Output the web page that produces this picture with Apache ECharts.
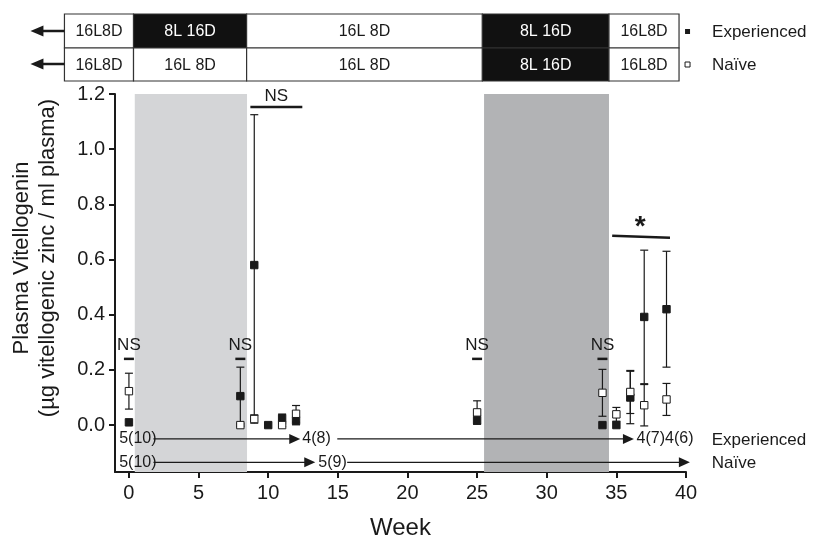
<!DOCTYPE html>
<html><head><meta charset="utf-8">
<script src="https://cdn.jsdelivr.net/npm/echarts@6/dist/echarts.min.js"></script>
<style>html,body{margin:0;padding:0;background:#fff}#c{width:813px;height:538px}</style>
</head><body><div id="c"></div>
<script>
// ---- data ----
const xTicks = [0, 5, 10, 15, 20, 25, 30, 35, 40];
const yTicks = [0, 0.2, 0.4, 0.6, 0.8, 1.0, 1.2];

const expWeeks = [0, 8, 9, 10, 11, 12, 25, 34, 35, 36, 37, 38.6];
const expMean  = [0.01, 0.105, 0.58, 0.0, 0.025, 0.016, 0.018, 0.0, 0.0, 0.10, 0.392, 0.42];
const expErr   = [0, 0.105, 0.545, 0, 0.015, 0.015, 0.015, 0, 0, 0.095, 0.242, 0.21];

const naiWeeks = [0, 8, 9, 11, 12, 25, 34, 35, 36, 37, 38.6];
const naiMean  = [0.123, 0.0, 0.022, 0.0, 0.041, 0.046, 0.117, 0.039, 0.12, 0.072, 0.093];
const naiErr   = [0.065, 0.005, 0.015, 0.005, 0.03, 0.042, 0.085, 0.025, 0.078, 0.075, 0.058];

const shadeLight = [0.42, 8.48];
const shadeDark = [25.5, 34.47];

const boxEdges = [-4.63, 0.33, 8.45, 25.38, 34.47, 39.5];
const expBoxLabels = ['16L8D', '8L 16D', '16L 8D', '8L 16D', '16L8D'];
const expBoxDark = [0, 1, 0, 1, 0];
const naiBoxLabels = ['16L8D', '16L 8D', '16L 8D', '8L 16D', '16L8D'];
const naiBoxDark = [0, 0, 0, 1, 0];

const nsWeeks = [0, 8, 25, 34];
const nsLevel = 0.24;

// bottom sample-size rows
const expRowLabels = ['5(10)', '4(8)', '4(7)4(6)'];
const expRowLabelX = [-0.7, 12.45, 36.45];
const expRowArrows = [[1.76, 12.3], [14.96, 36.26]];
const naiRowLabels = ['5(10)', '5(9)'];
const naiRowLabelX = [-0.7, 13.6];
const naiRowArrows = [[1.76, 13.38], [15.67, 40.28]];
const expRowY = -0.05, naiRowY = -0.135;

const FONT = 'Liberation Sans, Arial, sans-serif';
const INK = '#1a1a1a';

function errRender(filled) {
  return function (params, api) {
    const x = api.value(0), m = api.value(1), e = api.value(2);
    const p = api.coord([x, m]);
    const hi = api.coord([x, m + e]);
    const lo = api.coord([x, m - e]);
    const cw = 4, s = 3.7;
    const children = [];
    if (e > 0) {
      children.push({type: 'line', shape: {x1: p[0], y1: hi[1], x2: p[0], y2: lo[1]}, style: {stroke: INK, lineWidth: 1.2}});
      children.push({type: 'line', shape: {x1: p[0] - cw, y1: hi[1], x2: p[0] + cw, y2: hi[1]}, style: {stroke: INK, lineWidth: 1.2}});
      children.push({type: 'line', shape: {x1: p[0] - cw, y1: lo[1], x2: p[0] + cw, y2: lo[1]}, style: {stroke: INK, lineWidth: 1.2}});
    }
    children.push({type: 'rect', shape: {x: p[0] - s, y: p[1] - s, width: 2 * s, height: 2 * s},
      style: {fill: filled ? INK : '#fff', stroke: INK, lineWidth: 1}});
    return {type: 'group', children};
  };
}

const chart = echarts.init(document.getElementById('c'));
const option = {
  animation: false,
  backgroundColor: '#fff',
  grid: {left: 115, right: 127, top: 94, bottom: 66, outerBoundsMode: 'none', containLabel: false},
  xAxis: {
    type: 'value', min: -1, max: 40,
    name: 'Week', nameLocation: 'middle', nameGap: 44,
    nameTextStyle: {fontFamily: FONT, fontSize: 24, color: INK},
    axisLine: {show: true, onZero: false, lineStyle: {color: INK, width: 2}},
    axisTick: {show: true, length: 6, customValues: xTicks, lineStyle: {color: INK, width: 2}},
    axisLabel: {customValues: xTicks, fontFamily: FONT, fontSize: 20, color: INK, margin: 11},
    splitLine: {show: false}
  },
  yAxis: {
    type: 'value', min: -0.17, max: 1.2,
    name: 'Plasma Vitellogenin\n(µg vitellogenic zinc / ml plasma)', nameLocation: 'middle', nameGap: 54,
    nameTextStyle: {fontFamily: FONT, fontSize: 22, color: INK, lineHeight: 26, padding: [0, 0, 0, 50]},
    axisLine: {show: true, onZero: false, lineStyle: {color: INK, width: 2}},
    axisTick: {show: true, length: 6, customValues: yTicks, lineStyle: {color: INK, width: 2}},
    axisLabel: {customValues: yTicks, fontFamily: FONT, fontSize: 20, color: INK, margin: 10,
      formatter: v => v.toFixed(1)},
    splitLine: {show: false}
  },
  series: [
    {
      type: 'custom', name: 'Experienced', renderItem: errRender(true), z: 3,
      data: expWeeks.map((w, i) => [w, expMean[i], expErr[i]]),
      encode: {x: 0, y: 1},
      markArea: {silent: true, data: [
        [{xAxis: shadeLight[0], itemStyle: {color: '#d4d5d7'}}, {xAxis: shadeLight[1]}],
        [{xAxis: shadeDark[0], itemStyle: {color: '#b2b3b5'}}, {xAxis: shadeDark[1]}]
      ]}
    },
    {
      type: 'custom', name: 'Naïve', renderItem: errRender(false), z: 4,
      data: naiWeeks.map((w, i) => [w, naiMean[i], naiErr[i]]),
      encode: {x: 0, y: 1}
    }
  ]
};
chart.setOption(option);

function px(x, y) { return chart.convertToPixel({xAxisIndex: 0, yAxisIndex: 0}, [x, y]); }
function txt(x, y, t, size, align, fill, weight) {
  return {type: 'text', x, y, silent: true, z: 100,
    style: {text: t, fontFamily: FONT, fontSize: size, fill: fill || INK, fontWeight: weight || 'normal',
      align: align || 'center', verticalAlign: 'middle'}};
}
function hline(x1, x2, y, w) {
  return {type: 'line', silent: true, z: 100, shape: {x1, y1: y, x2, y2: y}, style: {stroke: INK, lineWidth: w || 1.2}};
}
function arrowRight(x, y, len, h) {
  return {type: 'polygon', silent: true, z: 100, shape: {points: [[x, y], [x - len, y - h / 2], [x - len, y + h / 2]]}, style: {fill: INK}};
}
function arrowLeft(x, y, len, h) {
  return {type: 'polygon', silent: true, z: 100, shape: {points: [[x, y], [x + len, y - h / 2], [x + len, y + h / 2]]}, style: {fill: INK}};
}

const g = [];
// top photoperiod boxes
const rowTop = [14, 48], rowH = [34, 33];
[[expBoxLabels, expBoxDark], [naiBoxLabels, naiBoxDark]].forEach((row, r) => {
  const labels = row[0], dark = row[1];
  for (let i = 0; i < labels.length; i++) {
    const xa = px(boxEdges[i], 0)[0], xb = px(boxEdges[i + 1], 0)[0];
    g.push({type: 'rect', silent: true, z: 100, shape: {x: xa, y: rowTop[r], width: xb - xa, height: rowH[r]},
      style: {fill: dark[i] ? '#111' : '#fff', stroke: '#333', lineWidth: 1.2}});
    g.push(txt((xa + xb) / 2, rowTop[r] + rowH[r] / 2 + 1, labels[i], 16, 'center', dark[i] ? '#fff' : INK));
  }
});
// left arrows
const bl = px(boxEdges[0], 0)[0];
[31, 64].forEach(y => { g.push(hline(bl - 28, bl, y, 2.5)); g.push(arrowLeft(bl - 34, y, 13, 11)); });
// legend markers
const br = px(boxEdges[5], 0)[0];
g.push({type: 'rect', silent: true, z: 100, shape: {x: br + 6, y: 29, width: 5, height: 5}, style: {fill: INK}});
g.push({type: 'rect', silent: true, z: 100, shape: {x: br + 6, y: 62, width: 5, height: 5}, style: {fill: '#fff', stroke: INK, lineWidth: 1}});
g.push(txt(br + 33, 32, 'Experienced', 17, 'left'));
g.push(txt(br + 33, 65, 'Naïve', 17, 'left'));

// NS markers
nsWeeks.forEach(w => {
  const p = px(w, nsLevel);
  g.push(hline(p[0] - 5, p[0] + 5, p[1], 2.5));
  g.push(txt(p[0], p[1] - 14, 'NS', 17));
});
// top NS bar
{
  const a = px(8.72, 1.153), b = px(12.45, 1.153);
  g.push(hline(a[0], b[0], a[1], 2.5));
  g.push(txt((a[0] + b[0]) / 2, a[1] - 11, 'NS', 17));
}
// star bar
{
  const a = px(34.7, 0.683), b = px(38.85, 0.683);
  g.push({type: 'line', silent: true, z: 100, shape: {x1: a[0], y1: a[1] - 1, x2: b[0], y2: b[1] + 1}, style: {stroke: INK, lineWidth: 2.5}});
  g.push(txt((a[0] + b[0]) / 2 - 1, a[1] - 9, '*', 28, 'center', INK, 'bold'));
}
// sample size rows
function row(labels, labelX, arrows, yv, name) {
  labels.forEach((t, i) => { const p = px(labelX[i], yv); g.push(txt(p[0], p[1], t, 16, 'left')); });
  arrows.forEach(a => {
    const s = px(a[0], yv), e = px(a[1], yv);
    g.push(hline(s[0], e[0] - 8, s[1], 1.2));
    g.push(arrowRight(e[0], e[1], 11, 10));
  });
  const q = px(41.85, yv);
  g.push(txt(q[0], q[1] + 1, name, 17, 'left'));
}
row(expRowLabels, expRowLabelX, expRowArrows, expRowY, 'Experienced');
row(naiRowLabels, naiRowLabelX, naiRowArrows, naiRowY, 'Naïve');

chart.setOption({graphic: {elements: g}});
</script>
</body></html>
